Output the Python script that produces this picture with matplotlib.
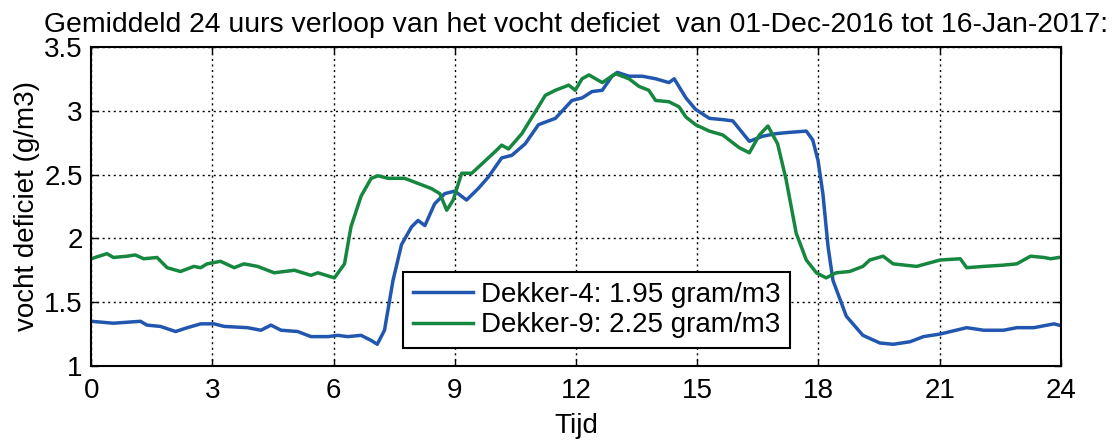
import numpy as np
import matplotlib
matplotlib.use("Agg")
import matplotlib.pyplot as plt

plt.rcParams['font.family'] = ['Liberation Sans', 'DejaVu Sans']

# Dekker-4 (blue), hours and vocht deficiet (g/m3)
d4_uur = [0.0, 0.55, 1.22, 1.38, 1.71, 2.09, 2.38, 2.71, 3.04, 3.29, 3.87, 4.2, 4.45,
          4.7, 5.11, 5.44, 5.86, 6.1, 6.35, 6.68, 6.93, 7.08, 7.26, 7.47, 7.68, 7.93,
          8.09, 8.26, 8.5, 8.75, 9.0, 9.29, 9.58, 9.83, 10.16, 10.41, 10.74, 11.07,
          11.49, 11.9, 12.15, 12.4, 12.65, 12.89, 13.02, 13.31, 13.64, 13.97, 14.3,
          14.43, 14.72, 14.96, 15.3, 15.63, 15.88, 16.29, 16.62, 16.95, 17.28, 17.7,
          17.86, 17.99, 18.11, 18.24, 18.36, 18.69, 19.1, 19.52, 19.85, 20.27, 20.6,
          21.01, 21.67, 22.09, 22.58, 22.91, 23.33, 23.83, 23.95]
d4_val = [1.35, 1.335, 1.35, 1.32, 1.31, 1.27, 1.30, 1.33, 1.33, 1.31, 1.30, 1.28, 1.32,
          1.28, 1.27, 1.23, 1.23, 1.24, 1.23, 1.24, 1.20, 1.17, 1.28, 1.67, 1.95, 2.09,
          2.14, 2.10, 2.27, 2.35, 2.37, 2.30, 2.39, 2.48, 2.63, 2.65, 2.74, 2.89,
          2.94, 3.08, 3.10, 3.15, 3.16, 3.27, 3.30, 3.27, 3.27, 3.25, 3.22,
          3.25, 3.10, 3.01, 2.94, 2.93, 2.92, 2.76, 2.80, 2.82, 2.83, 2.84,
          2.77, 2.61, 2.35, 1.93, 1.67, 1.39, 1.24, 1.18, 1.17, 1.19, 1.23,
          1.25, 1.30, 1.28, 1.28, 1.30, 1.30, 1.33, 1.32]

# Dekker-9 (green)
d9_uur = [0.0, 0.39, 0.55, 0.89, 1.09, 1.3, 1.63, 1.88, 2.21, 2.54, 2.71, 2.87, 3.2,
          3.54, 3.78, 4.12, 4.53, 5.03, 5.44, 5.61, 6.02, 6.27, 6.43, 6.68, 6.93, 7.1,
          7.35, 7.76, 8.09, 8.42, 8.63, 8.8, 8.96, 9.17, 9.42, 9.66, 10.0, 10.16, 10.33,
          10.66, 10.99, 11.24, 11.49, 11.82, 11.98, 12.15, 12.32, 12.65, 12.98, 13.31,
          13.56, 13.8, 13.97, 14.3, 14.55, 14.72, 14.96, 15.3, 15.63, 16.04, 16.29,
          16.54, 16.75, 16.99, 17.2, 17.45, 17.7, 17.95, 18.19, 18.44, 18.77, 19.1,
          19.27, 19.6, 19.85, 20.43, 21.01, 21.51, 21.67, 22.09, 22.58, 22.91, 23.25,
          23.58, 23.75, 23.95]
d9_val = [1.84, 1.88, 1.85, 1.86, 1.87, 1.84, 1.85, 1.77, 1.74, 1.78, 1.77, 1.80, 1.82,
          1.77, 1.80, 1.78, 1.73, 1.75, 1.71, 1.73, 1.69, 1.80, 2.09, 2.33, 2.47, 2.49,
          2.47, 2.47, 2.43, 2.39, 2.35, 2.22, 2.30, 2.51, 2.51, 2.58, 2.68, 2.73, 2.70,
          2.82, 2.99, 3.12, 3.16, 3.20, 3.16, 3.25, 3.28, 3.22, 3.29, 3.25,
          3.19, 3.16, 3.08, 3.07, 3.03, 2.95, 2.89, 2.84, 2.81, 2.71, 2.67,
          2.81, 2.88, 2.74, 2.46, 2.04, 1.83, 1.73, 1.69, 1.73, 1.74, 1.78,
          1.83, 1.86, 1.80, 1.78, 1.83, 1.84, 1.77, 1.78, 1.79, 1.80, 1.86,
          1.85, 1.84, 1.85]

labels = ['Dekker-4: 1.95 gram/m3', 'Dekker-9: 2.25 gram/m3']
x_ticks = [0, 3, 6, 9, 12, 15, 18, 21, 24]
y_ticks = [1, 1.5, 2, 2.5, 3, 3.5]

fig = plt.figure(figsize=(11.12, 4.42), dpi=100)
ax = fig.add_axes([0.082, 0.172, 0.872, 0.722])

ax.plot(d4_uur, d4_val, color='#2257b0', lw=2.5, label=labels[0])
ax.plot(d9_uur, d9_val, color='#16873f', lw=2.5, label=labels[1])

ax.set_xlim(0, 24)
ax.set_ylim(1, 3.5)
ax.set_xticks(x_ticks)
ax.set_xticklabels([str(t) for t in x_ticks])
ax.set_yticks(y_ticks)
ax.set_yticklabels(['1', '1.5', '2', '2.5', '3', '3.5'])
ax.tick_params(direction='in', length=5, width=1, labelsize=20, top=True, right=True)
ax.tick_params(axis='x', pad=9)
ax.tick_params(axis='y', pad=6)
ax.grid(True, color='black', linestyle=(0, (1.5, 2.5)), linewidth=1)
for s in ax.spines.values():
    s.set_linewidth(1.5)

ax.set_xlabel('Tijd', fontsize=20, labelpad=6)
ax.set_ylabel('vocht deficiet (g/m3)', fontsize=20, labelpad=3)
ax.set_title('Gemiddeld 24 uurs verloop van het vocht deficiet  van 01-Dec-2016 tot 16-Jan-2017:',
             fontsize=20.4, pad=11)

leg = ax.legend(loc='lower left', bbox_to_anchor=(0.322, 0.056),
                fontsize=20, frameon=True, fancybox=False, framealpha=1,
                edgecolor='black', handlelength=2.15, borderpad=0.35, labelspacing=0.15,
                handletextpad=0.3, borderaxespad=0)
leg.get_frame().set_linewidth(1.5)

fig.savefig('out.png', dpi=100)
